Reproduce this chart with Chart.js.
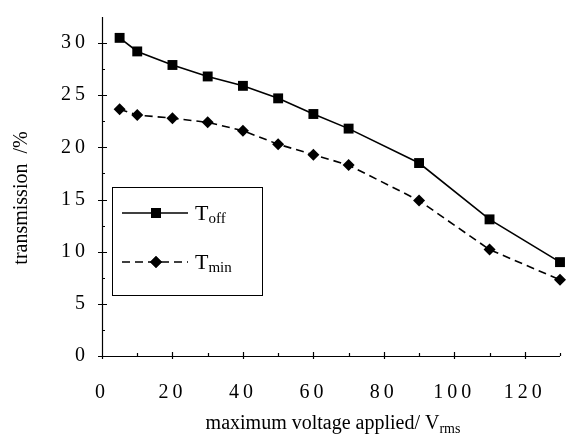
<!DOCTYPE html>
<html>
<head>
<meta charset="utf-8">
<script src="https://cdn.jsdelivr.net/npm/chart.js@4/dist/chart.umd.min.js"></script>
<style>
  html, body { margin: 0; padding: 0; background: #fff; }
  #wrap { position: relative; width: 567px; height: 440px; }
</style>
</head>
<body>
<div id="wrap"><canvas id="c" width="567" height="440"></canvas></div>
<script>
// ---- data ----
const voltages = [5, 10, 20, 30, 40, 50, 60, 70, 90, 110, 130];
const tOff = [30.5, 29.2, 27.9, 26.8, 25.9, 24.7, 23.2, 21.8, 18.5, 13.1, 9.0];
const tMin = [23.65, 23.1, 22.8, 22.4, 21.6, 20.3, 19.3, 18.3, 14.9, 10.2, 7.3];
const xTickValues = [0, 20, 40, 60, 80, 100, 120];
const xMinorTickValues = [10, 30, 50, 70, 90, 110, 130];
const yTickValues = [0, 5, 10, 15, 20, 25, 30];
const yMinorTickValues = [2.5, 7.5, 12.5, 17.5, 22.5, 27.5];
const seriesNames = ['T', 'T'];
const seriesSubs = ['off', 'min'];
const xTitle = 'maximum voltage applied/ V';
const xTitleSub = 'rms';
const yTitle = 'transmission  /%';

const INK = '#000';
const SERIF = '"Liberation Serif", "DejaVu Serif", serif';

const axesPlugin = {
  id: 'axesPlugin',
  beforeDraw(chart) {
    chart.ctx.letterSpacing = '4px';
  },
  beforeDatasetsDraw(chart) {
    const ctx = chart.ctx;
    ctx.letterSpacing = '0px';
    const xs = chart.scales.x, ys = chart.scales.y;
    const x0 = xs.left, x1 = xs.right, yB = ys.bottom, yT = ys.top;
    ctx.save();
    ctx.strokeStyle = INK;
    ctx.lineWidth = 1.2;
    ctx.beginPath();
    ctx.moveTo(x0 + 0.5, yT); ctx.lineTo(x0 + 0.5, yB + 0.5);
    ctx.moveTo(x0, yB + 0.5); ctx.lineTo(x1, yB + 0.5);
    yTickValues.forEach(v => {
      const p = Math.round(ys.getPixelForValue(v)) + 0.5;
      ctx.moveTo(x0 - 4, p); ctx.lineTo(x0 + 5, p);
    });
    yMinorTickValues.forEach(v => {
      const p = Math.round(ys.getPixelForValue(v)) + 0.5;
      ctx.moveTo(x0, p); ctx.lineTo(x0 + 3, p);
    });
    xTickValues.forEach(v => {
      const p = Math.round(xs.getPixelForValue(v)) + 0.5;
      ctx.moveTo(p, yB - 4); ctx.lineTo(p, yB + 3);
    });
    xMinorTickValues.forEach(v => {
      const p = Math.round(xs.getPixelForValue(v)) + 0.5;
      ctx.moveTo(p, yB - 3); ctx.lineTo(p, yB);
    });
    ctx.stroke();
    ctx.restore();
  },
  afterDraw(chart) {
    const ctx = chart.ctx;
    ctx.save();
    ctx.letterSpacing = '0px';
    ctx.fillStyle = INK;
    ctx.strokeStyle = INK;

    // x title with subscript
    ctx.font = '20px ' + SERIF;
    const mainW = ctx.measureText(xTitle).width;
    ctx.font = '14px ' + SERIF;
    const subW = ctx.measureText(xTitleSub).width;
    const cx = 333;
    let tx = cx - (mainW + subW) / 2;
    ctx.textBaseline = 'alphabetic';
    ctx.textAlign = 'left';
    ctx.font = '20px ' + SERIF;
    ctx.fillText(xTitle, tx, 429);
    ctx.font = '14px ' + SERIF;
    ctx.fillText(xTitleSub, tx + mainW, 433);

    // y title rotated
    ctx.save();
    ctx.translate(27, 198);
    ctx.rotate(-Math.PI / 2);
    ctx.font = '20px ' + SERIF;
    ctx.textAlign = 'center';
    ctx.fillText(yTitle, 0, 0);
    ctx.restore();

    // legend box
    ctx.lineWidth = 1;
    ctx.strokeRect(112.5, 187.5, 150, 108);
    const rows = [213, 262];
    chart.data.datasets.forEach((ds, i) => {
      const y = rows[i];
      ctx.save();
      ctx.lineWidth = ds.borderWidth;
      ctx.setLineDash(ds.borderDash || []);
      ctx.beginPath();
      ctx.moveTo(122, y); ctx.lineTo(188, y);
      ctx.stroke();
      ctx.restore();
      Chart.helpers.drawPoint(ctx, {
        pointStyle: ds.pointStyle, radius: ds.pointRadius, rotation: 0, borderWidth: 0
      }, 156, y);
      ctx.fill();
      ctx.font = '22px ' + SERIF;
      ctx.textAlign = 'left';
      ctx.fillText(seriesNames[i], 195, y + 7);
      const tw = ctx.measureText(seriesNames[i]).width;
      ctx.font = '15px ' + SERIF;
      ctx.fillText(seriesSubs[i], 195 + tw, y + 10);
    });
    ctx.restore();
  }
};

new Chart(document.getElementById('c'), {
  type: 'line',
  data: {
    datasets: [
      {
        label: 'Toff',
        data: voltages.map((v, i) => ({ x: v, y: tOff[i] })),
        borderColor: INK, backgroundColor: INK,
        borderWidth: 1.6, pointStyle: 'rect', pointRadius: 7,
        pointBackgroundColor: INK, pointBorderWidth: 0,
        fill: false, tension: 0, clip: false
      },
      {
        label: 'Tmin',
        data: voltages.map((v, i) => ({ x: v, y: tMin[i] })),
        borderColor: INK, backgroundColor: INK,
        borderWidth: 1.6, borderDash: [8, 5], pointStyle: 'rectRot', pointRadius: 6,
        pointBackgroundColor: INK, pointBorderWidth: 0,
        fill: false, tension: 0, clip: false
      }
    ]
  },
  options: {
    responsive: false,
    animation: false,
    devicePixelRatio: 1,
    layout: { padding: { top: 14, right: 0, left: 0, bottom: 0 } },
    plugins: { legend: { display: false }, tooltip: { enabled: false }, title: { display: false } },
    scales: {
      x: {
        type: 'linear', min: 0, max: 130,
        grid: { display: false }, border: { display: false },
        afterBuildTicks: s => { s.ticks = xTickValues.map(v => ({ value: v })); },
        afterFit: s => { s.height = 84; },
        ticks: { color: INK, font: { family: SERIF, size: 20 }, padding: 17, maxRotation: 0, autoSkip: false }
      },
      y: {
        type: 'linear', min: 0, max: 32.5,
        grid: { display: false }, border: { display: false },
        afterBuildTicks: s => { s.ticks = yTickValues.map(v => ({ value: v })); },
        afterFit: s => { s.width = 102; },
        ticks: { color: INK, font: { family: SERIF, size: 20 }, padding: 5, autoSkip: false }
      }
    }
  },
  plugins: [axesPlugin]
});
</script>
</body>
</html>
